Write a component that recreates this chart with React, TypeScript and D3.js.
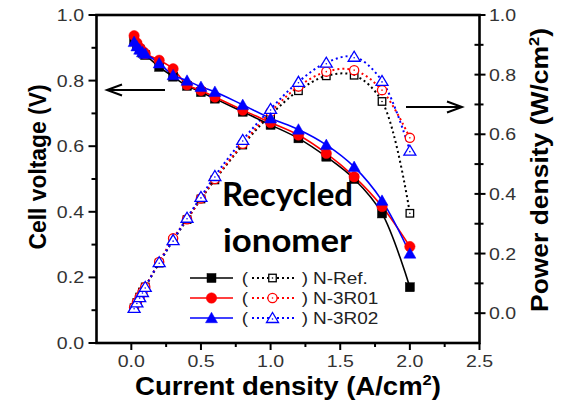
import React from "react";
import * as d3 from "d3";

// ---------- data ----------
const current = [0.02, 0.04, 0.06, 0.08, 0.1, 0.2, 0.3, 0.4, 0.5, 0.6, 0.8, 1.0, 1.2, 1.4, 1.6, 1.8, 2.0];

const voltageRef = [0.925, 0.905, 0.895, 0.885, 0.878, 0.842, 0.812, 0.784, 0.765, 0.745, 0.705, 0.665, 0.624, 0.568, 0.5, 0.395, 0.17];
const voltage3R01 = [0.937, 0.915, 0.9, 0.89, 0.882, 0.862, 0.836, 0.787, 0.77, 0.75, 0.71, 0.672, 0.634, 0.578, 0.507, 0.416, 0.294];
const voltage3R02 = [0.918, 0.905, 0.895, 0.887, 0.882, 0.853, 0.817, 0.8, 0.781, 0.766, 0.726, 0.685, 0.651, 0.604, 0.537, 0.434, 0.273];

const powerRef = [0.018, 0.036, 0.054, 0.071, 0.088, 0.168, 0.244, 0.314, 0.383, 0.447, 0.564, 0.665, 0.746, 0.796, 0.798, 0.71, 0.335];
const power3R01 = [0.019, 0.037, 0.054, 0.071, 0.088, 0.172, 0.251, 0.315, 0.385, 0.45, 0.568, 0.675, 0.76, 0.81, 0.815, 0.748, 0.588];
const power3R02 = [0.018, 0.036, 0.054, 0.071, 0.088, 0.171, 0.245, 0.32, 0.39, 0.46, 0.581, 0.685, 0.776, 0.84, 0.86, 0.779, 0.545];

const seriesNames = ["N-Ref.", "N-3R01", "N-3R02"];
const seriesColors = ["#000000", "#ff0000", "#0000ff"];
const seriesShapes = ["square", "circle", "triangle"];
const voltageSeries = [voltageRef, voltage3R01, voltage3R02];
const powerSeries = [powerRef, power3R01, power3R02];

const xTicks = [0, 0.5, 1.0, 1.5, 2.0, 2.5];
const xMinorTicks = [0.25, 0.75, 1.25, 1.75, 2.25];
const yLeftTicks = [0, 0.2, 0.4, 0.6, 0.8, 1.0];
const yLeftMinor = [0.1, 0.3, 0.5, 0.7, 0.9];
const yRightTicks = [0, 0.2, 0.4, 0.6, 0.8, 1.0];
const yRightMinor = [0.1, 0.3, 0.5, 0.7, 0.9];

// ---------- layout ----------
const W = 574;
const H = 404;
const L = 96.5, R = 479.5, T = 15, B = 343;
const SX = 1.15; // horizontal stretch of the original figure's text
const FONT = "'Liberation Sans', Arial, Helvetica, sans-serif";

const x = d3.scaleLinear().domain([-0.25, 2.5]).range([L, R]);
const yL = d3.scaleLinear().domain([0, 1]).range([B, T]);
const yR = d3.scaleLinear().domain([-0.1, 1.0]).range([B, T]);

function Marker({ shape, cx, cy, color, filled }: { shape: string; cx: number; cy: number; color: string; filled: boolean }) {
  const sw = 1.3;
  if (shape === "square") {
    const s = filled ? 9 : 7.5;
    return (
      <g>
        <rect x={cx - s / 2} y={cy - s / 2} width={s} height={s} fill={filled ? color : "#fff"} stroke={color} strokeWidth={filled ? 0.5 : sw} />
        {!filled && <circle cx={cx} cy={cy} r={0.8} fill={color} />}
      </g>
    );
  }
  if (shape === "circle") {
    const r = filled ? 5.2 : 4.6;
    return (
      <g>
        <circle cx={cx} cy={cy} r={r} fill={filled ? color : "#fff"} stroke={color} strokeWidth={filled ? 0.5 : sw} />
        {!filled && <circle cx={cx} cy={cy} r={0.8} fill={color} />}
      </g>
    );
  }
  const w = 12;
  const h = filled ? 10.5 : 10;
  const pts = `${cx - w / 2},${cy + h * 0.45} ${cx + w / 2},${cy + h * 0.45} ${cx},${cy - h * 0.55}`;
  return (
    <g>
      <polygon points={pts} fill={filled ? color : "#fff"} stroke={color} strokeWidth={filled ? 0.5 : sw} strokeLinejoin="miter" />
      {!filled && <circle cx={cx} cy={cy + 1} r={0.8} fill={color} />}
    </g>
  );
}

function SText({ x0, y0, children, anchor = "middle", size = 17, fill = "#333", weight = "normal" }: any) {
  return (
    <g transform={`translate(${x0},${y0}) scale(${SX},1)`}>
      <text x={0} y={0} textAnchor={anchor} fontSize={size} fill={fill} fontWeight={weight} fontFamily={FONT}>
        {children}
      </text>
    </g>
  );
}

export default function App() {
  const vLine = (vals: number[]) =>
    d3
      .line<number>()
      .x((_, i) => x(current[i]))
      .y((d) => yL(d))
      .curve(d3.curveCatmullRom)(vals) || "";
  const pLine = (vals: number[]) =>
    d3
      .line<number>()
      .x((_, i) => x(current[i]))
      .y((d) => yR(d))
      .curve(d3.curveCatmullRom)(vals) || "";

  const legendRows = [278, 298, 318];

  return (
    <svg width={W} height={H} style={{ position: "absolute", left: 0, top: 0, background: "#fff" }}>
      <rect x={0} y={0} width={W} height={H} fill="#fff" />

      {/* power density curves (dotted, open markers) */}
      {powerSeries.map((vals, k) => (
        <path key={"pl" + k} d={pLine(vals)} fill="none" stroke={seriesColors[k]} strokeWidth={2} strokeDasharray="2,3" />
      ))}
      {/* cell voltage curves */}
      {voltageSeries.map((vals, k) => (
        <path key={"vl" + k} d={vLine(vals)} fill="none" stroke={seriesColors[k]} strokeWidth={1.6} />
      ))}
      {powerSeries.map((vals, k) => (
        <g key={"pm" + k}>
          {vals.map((v, i) => (
            <Marker key={i} shape={seriesShapes[k]} cx={x(current[i])} cy={yR(v)} color={seriesColors[k]} filled={false} />
          ))}
        </g>
      ))}
      {voltageSeries.map((vals, k) => (
        <g key={"vm" + k}>
          {vals.map((v, i) => (
            <Marker key={i} shape={seriesShapes[k]} cx={x(current[i])} cy={yL(v)} color={seriesColors[k]} filled={true} />
          ))}
        </g>
      ))}

      {/* frame */}
      <rect x={L} y={T} width={R - L} height={B - T} fill="none" stroke="#000" strokeWidth={2.6} />

      {/* bottom axis ticks */}
      {xTicks.map((t) => (
        <g key={"xt" + t}>
          <line x1={x(t)} x2={x(t)} y1={B} y2={B + 7} stroke="#000" strokeWidth={2} />
          <SText x0={x(t)} y0={367}>{t.toFixed(1)}</SText>
        </g>
      ))}
      {xMinorTicks.map((t) => (
        <line key={"xm" + t} x1={x(t)} x2={x(t)} y1={B} y2={B + 4} stroke="#000" strokeWidth={2} />
      ))}

      {/* left axis ticks */}
      {yLeftTicks.map((t) => (
        <g key={"yl" + t}>
          <line x1={L - 8} x2={L} y1={yL(t)} y2={yL(t)} stroke="#000" strokeWidth={2} />
          <SText x0={84} y0={yL(t) + 6} anchor="end">{t.toFixed(1)}</SText>
        </g>
      ))}
      {yLeftMinor.map((t) => (
        <line key={"ylm" + t} x1={L - 5} x2={L} y1={yL(t)} y2={yL(t)} stroke="#000" strokeWidth={2} />
      ))}

      {/* right axis ticks */}
      {yRightTicks.map((t) => (
        <g key={"yr" + t}>
          <line x1={R - 5} x2={R + 6} y1={yR(t)} y2={yR(t)} stroke="#000" strokeWidth={2} />
          <SText x0={489} y0={yR(t) + 6} anchor="start">{t.toFixed(1)}</SText>
        </g>
      ))}
      {yRightMinor.map((t) => (
        <line key={"yrm" + t} x1={R - 5} x2={R + 4} y1={yR(t)} y2={yR(t)} stroke="#000" strokeWidth={2} />
      ))}

      {/* axis titles */}
      <text
        transform="translate(46,167) rotate(-90)"
        textAnchor="middle"
        fontSize={23}
        fontWeight="bold"
        fontFamily={FONT}
        textLength={165}
        lengthAdjust="spacingAndGlyphs"
        fill="#000"
      >
        Cell voltage (V)
      </text>
      <text
        transform="translate(548,170) rotate(-90)"
        textAnchor="middle"
        fontSize={24}
        fontWeight="bold"
        fontFamily={FONT}
        fill="#000"
        textLength={284}
        lengthAdjust="spacingAndGlyphs"
      >
        Power density (W/cm<tspan dy={-9} fontSize={15}>2</tspan><tspan dy={9}>)</tspan>
      </text>
      <text
        x={288}
        y={395}
        textAnchor="middle"
        fontSize={25}
        fontWeight="bold"
        fontFamily={FONT}
        fill="#000"
        textLength={306}
        lengthAdjust="spacingAndGlyphs"
      >
        Current density (A/cm<tspan dy={-10} fontSize={15}>2</tspan><tspan dy={10}>)</tspan>
      </text>

      {/* arrows */}
      <g stroke="#000" strokeWidth={2} fill="none">
        <line x1={165} y1={90} x2={107} y2={90} />
        <polyline points="122,84.5 107,90 122,95.5" />
        <line x1={406} y1={107} x2={462} y2={107} />
        <polyline points="447,101.5 462,107 447,112.5" />
      </g>

      {/* annotation */}
      <text x={222} y={206} fontSize={32} fontWeight="bold" fontFamily="Lato, 'Open Sans', sans-serif" fill="#000" textLength={131} lengthAdjust="spacingAndGlyphs">
        Recycled
      </text>
      <text x={223} y={252} fontSize={32} fontWeight="bold" fontFamily="Lato, 'Open Sans', sans-serif" fill="#000" textLength={129} lengthAdjust="spacingAndGlyphs">
        ionomer
      </text>

      {/* legend */}
      {seriesNames.map((name, k) => {
        const ly = legendRows[k];
        return (
          <g key={"lg" + k}>
            <line x1={190} x2={233} y1={ly} y2={ly} stroke={seriesColors[k]} strokeWidth={1.6} />
            <Marker shape={seriesShapes[k]} cx={211.5} cy={ly} color={seriesColors[k]} filled={true} />
            <SText x0={245} y0={ly + 6} size={16.5} fill="#222">(</SText>
            <line x1={252} x2={294} y1={ly} y2={ly} stroke={seriesColors[k]} strokeWidth={2} strokeDasharray="2,3" />
            <Marker shape={seriesShapes[k]} cx={272.5} cy={ly} color={seriesColors[k]} filled={false} />
            <SText x0={305} y0={ly + 6} size={16.5} fill="#222">)</SText>
            <SText x0={313} y0={ly + 6} size={16.5} fill="#222" anchor="start">{name}</SText>
          </g>
        );
      })}
    </svg>
  );
}
